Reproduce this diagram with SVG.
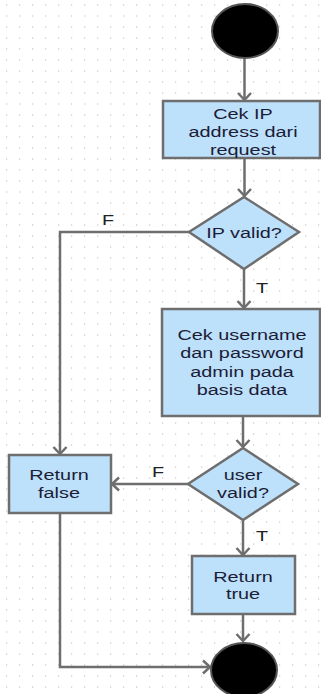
<svg xmlns="http://www.w3.org/2000/svg" width="321" height="694" viewBox="0 0 321 694">
  <defs>
    <pattern id="grid" x="6" y="4" width="13" height="11" patternUnits="userSpaceOnUse">
      <rect x="0" y="0" width="1.2" height="2" fill="#dcdcdc"/>
    </pattern>
    <marker id="arrow" viewBox="-9 -8 11 16" markerWidth="11" markerHeight="16" refX="0" refY="0" orient="auto" markerUnits="userSpaceOnUse">
      <path d="M-7,-6.5 L0,0 L-7,6.5" fill="none" stroke="#6e6e6e" stroke-width="2.5"/>
    </marker>
    <style>
      .box { fill: #bde0fb; stroke: #6e6e6e; stroke-width: 2.5; }
      .dot { fill: #000; stroke: #555; stroke-width: 2; }
      .edge { fill: none; stroke: #6e6e6e; stroke-width: 2.5; }
      .lbl { font-family: "Liberation Sans", Arial, sans-serif; font-size: 15.5px; fill: #1c1c36; text-anchor: middle; }
      .guard { font-family: "Liberation Sans", Arial, sans-serif; font-size: 15.5px; fill: #222; text-anchor: middle; }
    </style>
  </defs>

  <rect width="321" height="694" fill="#ffffff"/>
  <rect width="321" height="694" fill="url(#grid)"/>

  <!-- connectors -->
  <g id="connectors">
    <path class="edge" d="M244.5,58 L244.5,100" marker-end="url(#arrow)"/>
    <path class="edge" d="M244.5,158 L244.5,196" marker-end="url(#arrow)"/>
    <path class="edge" d="M189,232 L60,232 L60,454" marker-end="url(#arrow)"/>
    <path class="edge" d="M244,269 L244,308" marker-end="url(#arrow)"/>
    <path class="edge" d="M243,416 L243,447" marker-end="url(#arrow)"/>
    <path class="edge" d="M188,484 L112,484" marker-end="url(#arrow)"/>
    <path class="edge" d="M243,520 L243,555" marker-end="url(#arrow)"/>
    <path class="edge" d="M243,614 L243,641" marker-end="url(#arrow)"/>
    <path class="edge" d="M60,513 L60,667 L210,667" marker-end="url(#arrow)"/>
    <text class="guard" transform="translate(108,225) scale(1.28,1)">F</text>
    <text class="guard" transform="translate(262,293) scale(1.28,1)">T</text>
    <text class="guard" transform="translate(158,477) scale(1.28,1)">F</text>
    <text class="guard" transform="translate(262,541) scale(1.28,1)">T</text>
  </g>

  <!-- start node -->
  <g id="start">
    <ellipse class="dot" cx="245" cy="31" rx="33" ry="27"/>
  </g>

  <!-- check IP address -->
  <g id="checkIp">
    <rect class="box" x="163" y="101" width="157" height="57"/>
    <text class="lbl" transform="translate(243,118.5) scale(1.28,1)">Cek IP</text>
    <text class="lbl" transform="translate(243,136.5) scale(1.28,1)">address dari</text>
    <text class="lbl" transform="translate(243,154.5) scale(1.28,1)">request</text>
  </g>

  <!-- decision: IP valid -->
  <g id="ipValid">
    <polygon class="box" points="244,197 299,232 244,269 189,232"/>
    <text class="lbl" transform="translate(244,238) scale(1.28,1)">IP valid?</text>
  </g>

  <!-- check admin credentials -->
  <g id="checkUser">
    <rect class="box" x="162" y="309" width="158" height="107"/>
    <text class="lbl" transform="translate(242,340) scale(1.28,1)">Cek username</text>
    <text class="lbl" transform="translate(242,358.3) scale(1.28,1)">dan password</text>
    <text class="lbl" transform="translate(242,376.7) scale(1.28,1)">admin pada</text>
    <text class="lbl" transform="translate(242,395) scale(1.28,1)">basis data</text>
  </g>

  <!-- decision: user valid -->
  <g id="userValid">
    <polygon class="box" points="243,448 298,484 243,520 188,484"/>
    <text class="lbl" transform="translate(243,479.5) scale(1.28,1)">user</text>
    <text class="lbl" transform="translate(243,498) scale(1.28,1)">valid?</text>
  </g>

  <!-- return false -->
  <g id="returnFalse">
    <rect class="box" x="9" y="455" width="102" height="58"/>
    <text class="lbl" transform="translate(59,480) scale(1.28,1)">Return</text>
    <text class="lbl" transform="translate(59,498) scale(1.28,1)">false</text>
  </g>

  <!-- return true -->
  <g id="returnTrue">
    <rect class="box" x="192" y="556" width="103" height="58"/>
    <text class="lbl" transform="translate(243,581.5) scale(1.28,1)">Return</text>
    <text class="lbl" transform="translate(243,599) scale(1.28,1)">true</text>
  </g>

  <!-- end node -->
  <g id="end">
    <ellipse class="dot" cx="244" cy="670" rx="33" ry="27"/>
  </g>
</svg>
